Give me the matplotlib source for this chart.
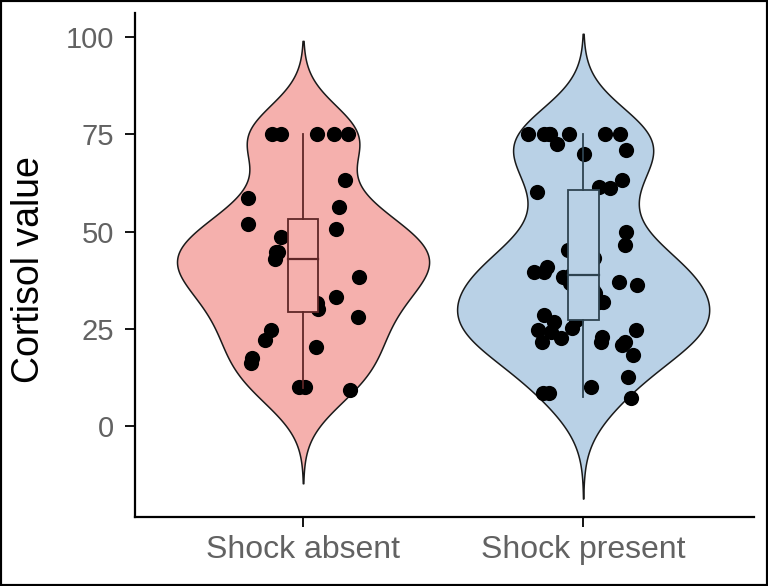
import numpy as np
import matplotlib
matplotlib.use("Agg")
import matplotlib.pyplot as plt
from matplotlib.patches import Rectangle

plt.rcParams['font.family'] = ['Liberation Sans', 'DejaVu Sans']

categories = ["Shock absent", "Shock present"]

absent_values = [75, 75, 75, 75, 75, 63.2, 58.6, 56.3, 50.6, 50.1, 48.6, 44.7, 44.7,
                 42.7, 42.2, 40.1, 38.3, 33.2, 31.6, 28, 24.7, 22.1, 20.3, 17.5,
                 16.2, 10, 10, 9.3, 30, 35, 41, 43, 52]
present_values = [75, 75, 75, 75, 75, 75, 75, 72.5, 71, 70, 63.2, 61.4, 61.2, 60.2,
                  56.8, 47.3, 46.5, 45.2, 43.2, 39.6, 38.8, 38.3, 39.6, 37, 36.8,
                  36.2, 35, 34.2, 31.9, 31.9, 28.5, 27.2, 26.7, 25.2, 24.7, 24.7,
                  24.2, 22.9, 22.6, 21.6, 21.6, 21.6, 20.8, 18.3, 12.6, 10, 8.5,
                  8.5, 7.2, 30, 41, 50]

box_q1 = [29.3, 27.2]
box_median = [42.9, 38.8]
box_q3 = [53.2, 60.7]
whisker_low = [9.8, 7.5]
whisker_high = [75, 75]

y_ticks = [0, 25, 50, 75, 100]

fill_colors = ['#F5B0AD', '#B9D1E6']
box_edge_colors = ['#5E2626', '#2E4350']


def nrd0(x):
    x = np.asarray(x, float)
    sd = x.std(ddof=1)
    q75, q25 = np.percentile(x, [75, 25])
    lo = min(sd, (q75 - q25) / 1.34)
    return 0.9 * lo * len(x) ** -0.2


def kde(x, bw, grid):
    x = np.asarray(x, float)
    z = (grid[:, None] - x[None, :]) / bw
    return np.exp(-0.5 * z ** 2).sum(1) / (len(x) * bw * np.sqrt(2 * np.pi))


fig = plt.figure(figsize=(7.68, 5.86), dpi=100)
ax = fig.add_axes([135 / 768, 1 - 517 / 586, (754 - 135) / 768, (517 - 13) / 586])

groups = [absent_values, present_values]
rng = np.random.default_rng(7)
for i, vals in enumerate(groups):
    pos = i + 1
    v = np.asarray(vals, float)
    bw = nrd0(v)
    grid = np.linspace(v.min() - 3 * bw, v.max() + 3 * bw, 512)
    d = kde(v, bw, grid)
    d = d / d.max() * 0.45
    ax.fill_betweenx(grid, pos - d, pos + d, facecolor=fill_colors[i],
                     edgecolor='#1a1a1a', linewidth=1.1, zorder=1)
    jit = rng.uniform(-0.2, 0.2, len(v))
    ax.scatter(pos + jit, v, s=120, color='black', zorder=2, linewidths=0)
    bc = box_edge_colors[i]
    ax.add_patch(Rectangle((pos - 0.055, box_q1[i]), 0.11, box_q3[i] - box_q1[i],
                           facecolor=fill_colors[i], edgecolor=bc, linewidth=1.3, zorder=3))
    ax.plot([pos - 0.055, pos + 0.055], [box_median[i]] * 2, color=bc, lw=1.6, zorder=4)
    ax.plot([pos, pos], [box_q3[i], whisker_high[i]], color=bc, lw=1.3, zorder=3)
    ax.plot([pos, pos], [whisker_low[i], box_q1[i]], color=bc, lw=1.3, zorder=3)

ax.set_xlim(0.4, 2.61)
ax.set_ylim(-23.4, 106.2)
ax.set_xticks([1, 2])
ax.set_xticklabels(categories)
ax.set_yticks(y_ticks)
ax.set_yticklabels([str(t) for t in y_ticks])
for s in ['top', 'right']:
    ax.spines[s].set_visible(False)
for s in ['left', 'bottom']:
    ax.spines[s].set_linewidth(1.6)
    ax.spines[s].set_color('black')
ax.tick_params(axis='both', length=7, width=1.3, color='black', labelcolor='#626262')
ax.tick_params(axis='y', labelsize=21, pad=8)
ax.tick_params(axis='x', labelsize=23, pad=6)
ax.set_ylabel("Cortisol value", fontsize=27, color='black')
ax.yaxis.set_label_coords(-0.142, 0.49)

fig.patches.append(Rectangle((0, 0), 1, 1, transform=fig.transFigure, fill=False,
                             edgecolor='black', linewidth=3, zorder=10))

fig.savefig("out.png", dpi=100)
